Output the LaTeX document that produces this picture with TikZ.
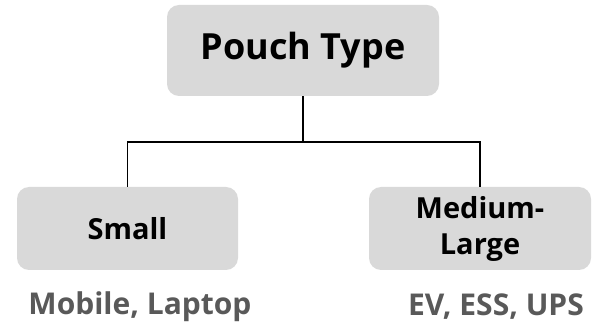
\documentclass[tikz,border=0pt]{standalone}
\usepackage{fontspec}
\setmainfont{Open Sans}
\definecolor{boxgray}{HTML}{D9D9D9}
\definecolor{labgray}{HTML}{595959}
\tikzset{
  box/.style={fill=boxgray, rounded corners=12pt, inner sep=0pt, align=center, font=\bfseries},
  conn/.style={draw=black, line width=1.6pt},
  lab/.style={text=labgray, font=\fontsize{30}{36}\selectfont\bfseries, inner sep=0pt}
}
\begin{document}
\begin{tikzpicture}[x=1pt,y=1pt]
\useasboundingbox (0,0) rectangle (599,329);
\node[box, minimum width=272pt, minimum height=91pt, font=\fontsize{36}{42}\selectfont\bfseries] (top) at (303,278.5) {Pouch Type};
\node[box, minimum width=221pt, minimum height=83pt, font=\fontsize{29}{36}\selectfont\bfseries] (small) at (127.5,100.5) {Small};
\node[box, minimum width=222pt, minimum height=83pt, font=\fontsize{29}{36}\selectfont\bfseries] (med) at (480,100.5) {Medium-\\Large};
\coordinate (j) at (303,187);
\draw[conn] (top.south) -- (j);
\draw[conn] (small.north) |- (j) -| (med.north);
\node[lab] (l1) at (140,22) {Mobile, Laptop};
\node[lab] (l2) at (496,22) {EV, ESS, UPS};
\end{tikzpicture}
\end{document}
